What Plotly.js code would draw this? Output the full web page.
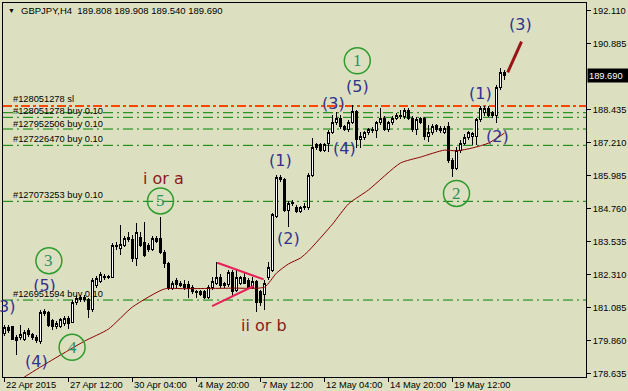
<!DOCTYPE html>
<html><head><meta charset="utf-8">
<script src="https://cdn.plot.ly/plotly-3.0.1.min.js"></script>
<style>html,body{margin:0;padding:0;background:#DCE0C0;overflow:hidden}#chart{width:628px;height:391px}
#chart .trace.boxes path{shape-rendering:crispEdges}</style>
</head><body><div id="chart"></div>
<script>
const symbol = 'GBPJPY,H4';
// OHLC per H4 bar (bar index 0 = 22 Apr 2015 20:00)
const O = [180.13,180.32,180.36,179.98,179.95,179.91,180.24,180.06,179.98,179.80,
180.84,180.88,180.58,180.36,180.39,180.47,180.69,180.54,181.25,181.36,
181.47,181.36,180.99,181.88,182.06,182.25,182.25,182.21,183.40,183.29,
183.40,183.59,183.59,182.92,183.70,183.48,183.40,183.22,183.66,183.63,
183.14,182.70,181.77,182.10,181.99,181.95,181.92,181.84,181.69,181.66,
181.66,181.47,181.84,181.99,182.21,181.88,181.92,182.40,181.73,181.99,
182.18,182.10,181.84,182.03,181.66,181.58,182.18,182.47,184.48,185.93,
185.82,184.70,185.00,184.78,184.63,184.78,184.78,186.00,187.12,187.12,
186.93,187.19,187.60,187.94,188.12,187.79,187.68,187.97,188.35,187.34,
187.38,187.57,187.71,187.64,187.94,188.12,187.68,187.94,188.12,188.23,
188.16,188.42,188.12,187.68,188.09,188.09,187.45,187.57,187.83,187.75,
187.60,187.79,186.56,186.26,186.90,187.19,187.38,187.42,187.42,188.05,
188.31,188.49,188.31,188.23,189.24,189.808];
const H = [180.43,180.43,180.39,180.06,180.43,180.24,180.32,180.13,180.06,180.99,
181.02,180.95,180.65,180.58,180.69,180.76,180.76,181.36,181.54,181.54,
181.54,181.43,182.18,182.25,182.40,182.33,182.29,183.48,183.51,184.15,
183.74,183.89,183.77,184.22,183.89,184.26,183.48,183.74,183.74,184.44,
183.22,182.77,182.06,182.18,182.06,182.10,182.06,181.92,181.73,181.73,
181.73,181.92,182.21,182.77,182.33,182.03,182.47,182.47,182.47,182.25,
182.40,182.18,182.21,182.10,181.73,182.10,182.77,184.59,186.00,186.00,
185.89,185.04,185.08,184.89,184.85,184.96,186.08,187.38,187.19,187.19,
187.19,187.68,188.23,188.35,188.23,187.86,188.05,188.61,188.42,187.60,
187.64,187.75,187.79,188.01,188.49,188.20,188.01,188.20,188.31,188.42,
188.49,188.49,188.20,188.16,188.16,188.16,187.86,187.90,187.90,187.83,
187.83,187.97,186.64,187.04,187.31,187.53,187.64,187.60,188.12,188.57,
188.57,188.57,188.38,189.35,189.98,189.908];
const L = [180.02,180.13,179.87,179.31,179.87,179.84,179.98,179.87,179.76,179.72,
180.76,180.36,180.24,180.28,180.32,180.39,180.28,180.50,181.17,181.28,
181.28,180.69,180.91,181.80,181.99,182.10,182.14,182.18,183.22,183.03,
183.33,183.51,182.77,182.62,183.33,182.96,183.14,183.18,183.48,183.07,
182.55,181.73,181.73,181.80,181.84,181.73,181.43,181.58,181.43,181.51,
181.40,181.40,181.73,181.92,181.80,181.80,181.84,181.47,181.66,181.92,
181.95,181.77,181.77,180.91,181.14,180.99,182.10,182.40,184.41,185.74,
184.63,184.07,184.85,184.59,184.59,184.70,184.70,185.93,186.93,186.86,
186.86,186.86,187.53,187.86,187.71,187.64,187.60,187.90,187.01,187.01,
187.31,187.49,187.57,187.38,187.86,187.64,187.60,187.86,188.05,188.09,
188.09,188.05,187.60,187.49,187.90,187.31,187.23,187.49,187.60,187.57,
187.53,186.45,185.93,186.19,186.82,187.12,187.31,187.12,187.12,187.97,
188.20,188.16,188.12,187.94,189.16,189.540];
const C = [180.32,180.21,179.91,179.87,180.06,180.17,180.06,179.95,179.84,180.91,
180.95,180.43,180.36,180.50,180.62,180.69,180.50,181.28,181.43,181.47,
181.36,180.99,182.10,182.14,182.29,182.18,182.18,183.40,183.33,183.44,
183.66,183.70,182.92,183.85,183.40,183.03,183.22,183.66,183.55,183.14,
182.73,181.77,181.99,181.92,181.88,181.84,181.80,181.66,181.62,181.58,
181.47,181.84,182.03,182.21,181.88,181.99,182.40,181.66,182.21,182.18,
181.99,181.84,182.03,181.25,181.25,181.99,182.55,184.52,185.93,185.82,
184.70,184.96,184.93,184.63,184.78,184.85,186.00,187.04,187.04,186.93,
187.12,187.60,187.97,188.12,187.79,187.71,187.97,188.35,187.31,187.42,
187.57,187.68,187.64,187.94,188.12,187.68,187.94,188.12,188.23,188.16,
188.42,188.12,187.68,188.05,187.97,187.42,187.60,187.79,187.68,187.64,
187.75,186.56,186.26,186.93,187.19,187.38,187.57,187.53,188.05,188.49,
188.49,188.23,188.20,189.24,189.80,189.690];

// moving average, read at selected bars
const maX = [0,5,11,20,26,32,40,45,57,65,68,71,74,76,82,86,91,99,104,110,113,117,121,125];
const maY = [178.01,178.50,179.05,179.83,180.28,181.10,181.77,181.78,181.80,181.84,182.36,182.70,182.92,183.18,184.18,184.93,185.45,186.45,186.67,186.93,186.90,187.01,187.19,187.56];

const xTickBars = [0,16,32,48,64,80,96,112];
const xTickText = ['22 Apr 2015','27 Apr 12:00','30 Apr 04:00','4 May 20:00','7 May 12:00','12 May 04:00','14 May 20:00','19 May 12:00'];
const yTickVals = [192.110,190.885,188.435,187.210,185.985,184.760,183.535,182.310,181.085,179.860,178.635];

// order lines
const slLevel = 188.568;
const buyLevels = [188.319,188.148,187.713,187.107,185.026,181.358];
const orderText = ['#128051278 sl','#128051278 buy 0.10','#127952506 buy 0.10','#127226470 buy 0.10','#127073253 buy 0.10','#126951594 buy 0.10'];
const orderTextY = [188.83,188.38,187.91,187.34,185.26,181.57];

// wave labels
const waveText = ['(3)','(1)','(2)','(5)','(3)','(4)','(1)','(2)','(4)'];
const waveX = [129,119,123.25,88.2,82.2,85.1,69,71.1,8.1];
const waveY = [191.58,189.05,187.42,189.31,188.67,186.99,186.56,183.65,179.07];
const circText = ['1','2','5','3','4'];
const circX = [88.2,113,39,11.1,16.9];
const circY = [190.25,185.32,185.04,182.82,179.60];
const altText = ['i or a','ii or b'];
const altX = [39.75,64.8];
const altY = [185.89,180.43];

const BG = '#DCE0C0';
const FONT = 'Liberation Sans, Arial, sans-serif';
const WFONT = 'DejaVu Sans, Verdana, sans-serif';
const idx = O.map((_, i) => i);
const n = O.length;

const traces = [
  {type:'candlestick', x: idx, open: O, high: H, low: L, close: C,
   increasing:{line:{color:'#000', width:1}, fillcolor:'#FFFFFF'},
   decreasing:{line:{color:'#000', width:1}, fillcolor:'#000000'},
   whiskerwidth:0, hoverinfo:'none', showlegend:false},
  {type:'scatter', mode:'lines', x: maX, y: maY, line:{color:'#8B0000', width:1, shape:'spline', smoothing:0.6},
   hoverinfo:'none', showlegend:false}
];

const shapes = [];
shapes.push({type:'line', xref:'paper', x0:0, x1:1, yref:'y', y0:slLevel, y1:slLevel, layer:'below',
  line:{color:'#FF4500', width:2, dash:'9px,3px,3px,3px'}});
buyLevels.forEach(v => shapes.push({type:'line', xref:'paper', x0:0, x1:1, yref:'y', y0:v, y1:v, layer:'below',
  line:{color:'#008000', width:1, dash:'10px,4px,2px,4px'}}));
// partly hidden (5) near wave 3
shapes.push({type:'rect', xref:'x', yref:'y', x0:9, x1:11, y0:181.80, y1:182.04, layer:'below',
  line:{width:0}, fillcolor:'rgba(0,0,0,0)',
  label:{text:'(5)', textposition:'middle center', font:{family:WFONT, size:16, color:'#32328C'}}});
shapes.push({type:'rect', xref:'x', yref:'y', x0:7.75, x1:12.5, y0:181.39, y1:181.70, layer:'below',
  line:{width:0}, fillcolor:BG});
// triangle
shapes.push({type:'line', xref:'x', yref:'y', x0:53.2, y0:182.745, x1:64.8, y1:182.128, layer:'above', line:{color:'#E8205A', width:2}});
shapes.push({type:'line', xref:'x', yref:'y', x0:51.9, y0:181.135, x1:62.3, y1:181.879, layer:'above', line:{color:'#E8205A', width:2}});
// projected wave (3)
shapes.push({type:'line', xref:'x', yref:'y', x0:125.8, y0:189.821, x1:129.25, y1:190.958, layer:'above', line:{color:'#991515', width:3}});
// circles
circX.forEach((cx, k) => shapes.push({type:'circle', xref:'x', yref:'y', xsizemode:'pixel', ysizemode:'pixel',
  xanchor:cx, yanchor:circY[k], x0:-13, x1:13, y0:-13, y1:13, layer:'above',
  line:{color:'#2E9B2E', width:1.5}, fillcolor:'rgba(0,0,0,0)'}));

const ann = [];
ann.push({xref:'x', yref:'y', x:0.4, y:192.11, text:'▼', showarrow:false, xanchor:'left', yanchor:'middle', font:{family:FONT, size:7, color:'#000'}});
ann.push({xref:'x', yref:'y', x:3.6, y:192.11, showarrow:false, xanchor:'left', yanchor:'middle',
  text: symbol + '\u00A0\u00A0' + [O[n-1], H[n-1], L[n-1], C[n-1]].map(v => v.toFixed(3)).join(' '),
  font:{family:FONT, size:9.5, color:'#000'}});
orderText.forEach((t, k) => ann.push({xref:'x', yref:'y', x:1.6, y:orderTextY[k], text:t, showarrow:false,
  xanchor:'left', yanchor:'middle', font:{family:FONT, size:9.3, color:'#000'}}));
waveText.forEach((t, k) => ann.push({xref:'x', yref:'y', x:waveX[k], y:waveY[k], text:t, showarrow:false,
  xanchor:'center', yanchor:'middle', font:{family:WFONT, size:16, color:'#32328C'}}));
ann.push({xref:'x', yref:'y', x:3.1, y:181.10, text:'3)', showarrow:false, xanchor:'right', yanchor:'middle',
  font:{family:WFONT, size:16, color:'#32328C'}});
circText.forEach((t, k) => ann.push({xref:'x', yref:'y', x:circX[k], y:circY[k], text:t, showarrow:false,
  xanchor:'center', yanchor:'middle', font:{family:'Liberation Serif, serif', size:17, color:'#2F8F5F'}}));
altText.forEach((t, k) => ann.push({xref:'x', yref:'y', x:altX[k], y:altY[k], text:t, showarrow:false,
  xanchor:'center', yanchor:'middle', font:{family:WFONT, size:16, color:'#8B1A1A'}}));
// x-axis labels, left-aligned after each tick
xTickBars.forEach((b, k) => ann.push({xref:'x', yref:'paper', x:b, y:0, xanchor:'left', yanchor:'top',
  xshift:0, yshift:-2, text:xTickText[k], showarrow:false, borderpad:0,
  font:{family:FONT, size:9.3, color:'#000'}}));
// current price box
ann.push({xref:'paper', yref:'y', x:1, xshift:1, y:C[n-1], text:C[n-1].toFixed(3), showarrow:false,
  xanchor:'left', yanchor:'middle', align:'left', width:40, height:11, bgcolor:'#000', borderpad:1,
  font:{family:FONT, size:9.3, color:'#FFF'}});

const layout = {
  width:628, height:391,
  margin:{l:3, r:42, t:3, b:14, pad:0},
  paper_bgcolor:BG, plot_bgcolor:BG,
  showlegend:false, hovermode:false,
  boxgap:0.5,
  xaxis:{range:[-0.375,145.375], showgrid:false, zeroline:false, showline:true, mirror:true, linecolor:'#000', linewidth:1,
    ticks:'outside', ticklen:4, tickcolor:'#000', tickwidth:1, tickvals:xTickBars, showticklabels:false,
    rangeslider:{visible:false}, fixedrange:true},
  yaxis:{side:'right', range:[178.498,192.396], showgrid:false, zeroline:false, showline:true, mirror:true,
    linecolor:'#000', linewidth:1, ticks:'outside', ticklen:4, tickcolor:'#000', tickwidth:1,
    tickvals:yTickVals, ticktext:yTickVals.map(v => v.toFixed(3)), tickfont:{family:FONT, size:9.3, color:'#000'},
    fixedrange:true},
  shapes: shapes, annotations: ann
};
Plotly.newPlot('chart', traces, layout, {staticPlot:true, displayModeBar:false});
</script></body></html>
